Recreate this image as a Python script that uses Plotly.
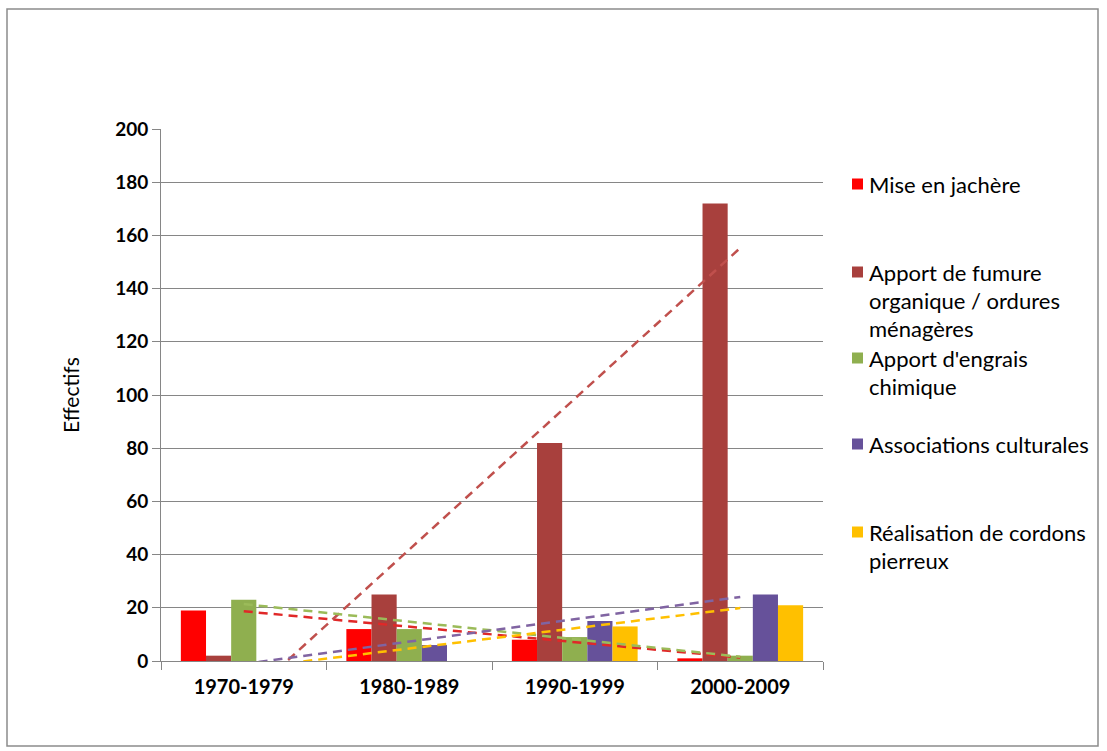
import numpy as np
import plotly.graph_objects as go

categories = ["1970-1979", "1980-1989", "1990-1999", "2000-2009"]
series_names = [
    "Mise en jachère",
    "Apport de fumure organique / ordures ménagères",
    "Apport d'engrais chimique",
    "Associations culturales",
    "Réalisation de cordons pierreux",
]
mise_en_jachere = [19, 12, 8, 1]
fumure_organique = [2, 25, 82, 172]
engrais_chimique = [23, 12, 9, 2]
associations_culturales = [0, 6, 15, 25]
cordons_pierreux = [0, 0, 13, 21]

legend_lines = [
    ["Mise en jachère"],
    ["Apport de fumure", "organique / ordures", "ménagères"],
    ["Apport d'engrais", "chimique"],
    ["Associations culturales"],
    ["Réalisation de cordons", "pierreux"],
]
legend_line_y = [[184], [272, 300, 328], [358, 386], [444], [532, 560]]

bar_colors = ["#FF0000", "#A8403D", "#8FAF4F", "#66519A", "#FFC000"]
trend_colors = ["#E02828", "#C0504D", "#9BBB59", "#8064A2", "#FFC000"]

all_values = [mise_en_jachere, fumure_organique, engrais_chimique,
              associations_culturales, cordons_pierreux]

W, H = 1107, 751
L, R, T, B = 161, 823, 129, 661
pw, ph = R - L, B - T

def px(x):
    return (x - L) / pw

def py(y):
    return (B - y) / ph

FONT = "Lato"

fig = go.Figure()
for name, vals, col in zip(series_names, all_values, bar_colors):
    fig.add_trace(go.Bar(x=categories, y=vals, name=name, marker_color=col,
                         marker_line_width=0, showlegend=False))

idx = np.arange(1, len(categories) + 1)
for vals, col in zip(all_values, trend_colors):
    slope, intercept = np.polyfit(idx, np.array(vals, dtype=float), 1)
    ys = [slope * idx[0] + intercept, slope * idx[-1] + intercept]
    fig.add_trace(go.Scatter(x=[categories[0], categories[-1]], y=ys, mode="lines",
                             line=dict(color=col, width=2.5, dash="9px,6px"),
                             showlegend=False, hoverinfo="skip"))

shapes = [
    dict(type="rect", xref="paper", yref="paper", x0=px(7), x1=px(1098),
         y0=py(746), y1=py(9), line=dict(color="#8C8C8C", width=1.5),
         fillcolor="rgba(0,0,0,0)", layer="below"),
]
annotations = [
    dict(text="Effectifs", xref="paper", yref="paper", x=px(70), y=py(395),
         textangle=-90, showarrow=False, font=dict(family=FONT, size=21, color="#000"),
         xanchor="center", yanchor="middle"),
]
for lines, ys, col in zip(legend_lines, legend_line_y, bar_colors):
    sq = 11
    shapes.append(dict(type="rect", xref="paper", yref="paper",
                       x0=px(852), x1=px(852 + sq), y0=py(ys[0] + sq / 2), y1=py(ys[0] - sq / 2),
                       fillcolor=col, line=dict(width=0)))
    for t, y in zip(lines, ys):
        annotations.append(dict(text=t, xref="paper", yref="paper", x=px(867), y=py(y),
                                xanchor="left", yanchor="middle", showarrow=False,
                                font=dict(family=FONT, size=22, color="#000")))

fig.update_layout(
    width=W, height=H,
    margin=dict(l=L, r=W - R, t=T, b=H - B, pad=0),
    paper_bgcolor="white", plot_bgcolor="white",
    barmode="group", bargap=0.24, bargroupgap=0,
    font=dict(family=FONT, color="#000"),
    shapes=shapes, annotations=annotations,
    xaxis=dict(type="category", showgrid=False, showline=True, linecolor="#868686",
               linewidth=1, ticks="outside", ticklen=8, tickcolor="#868686",
               tickson="boundaries", ticklabelstandoff=8,
               tickfont=dict(family=FONT, size=20, color="#000", weight="bold")),
    yaxis=dict(range=[0, 200], dtick=20, showgrid=True, gridcolor="#868686", gridwidth=1,
               showline=True, linecolor="#868686", linewidth=1, ticks="outside",
               ticklen=8, tickcolor="#868686", zeroline=False,
               tickfont=dict(family=FONT, size=19, color="#000", weight="bold")),
)

fig.write_html("out.html", config={"displayModeBar": False},
               post_script="document.body.style.margin='0';document.body.style.overflow='hidden';")
